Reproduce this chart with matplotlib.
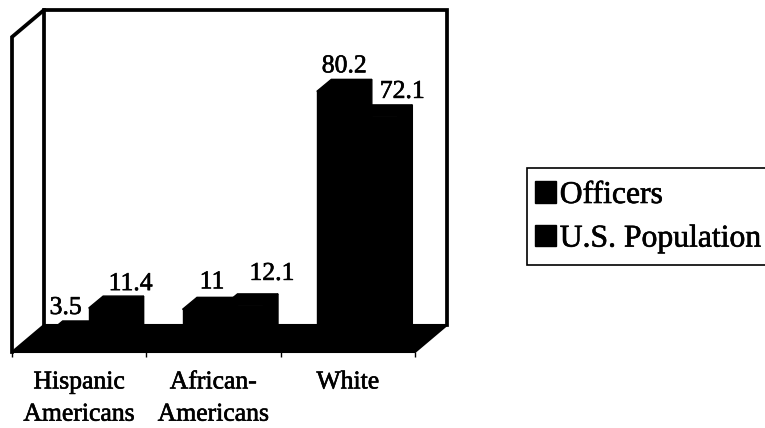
import matplotlib
matplotlib.use("Agg")
import matplotlib.pyplot as plt
import matplotlib.patheffects as pe
from matplotlib.patches import Polygon, Patch, Rectangle

plt.rcParams['font.family'] = ['Liberation Serif', 'DejaVu Serif']

categories = ["Hispanic\nAmericans", "African-\nAmericans", "White"]
series_names = ["Officers", "U.S. Population"]
officers = [3.5, 11, 80.2]
us_population = [11.4, 12.1, 72.1]

W, H = 765, 428
fig = plt.figure(figsize=(W / 100, H / 100), dpi=100, facecolor='white')
# front plane of the pseudo-3D box
L, R, T, B = 12, 415, 37, 352
ax = fig.add_axes([L / W, 1 - B / H, (R - L) / W, (B - T) / H])
ax.set_xlim(0, 3)
ax.set_ylim(0, 100)
ax.patch.set_visible(False)
for s in ax.spines.values():
    s.set_visible(False)

px_x = 3 / (R - L)
px_y = 100 / (B - T)
wall_dx, wall_dy = 32 * px_x, 27 * px_y     # full box depth
bar_ox, bar_oy = 9.5 * px_x, 8 * px_y       # bar front plane offset
bar_dx, bar_dy = 14.5 * px_x, 12 * px_y     # bar depth
bar_w = 40.5 * px_x

K = 'black'
heavy = [pe.withStroke(linewidth=0.45, foreground=K)]

# walls
line = dict(color=K, lw=2.7, clip_on=False, solid_capstyle='projecting', solid_joinstyle='miter')
ax.plot([0, 0, wall_dx, 3 + wall_dx, 3 + wall_dx],
        [0, 100, 100 + wall_dy, 100 + wall_dy, wall_dy], **line)
ax.plot([wall_dx, wall_dx], [wall_dy, 100 + wall_dy], **line)
# floor
ax.add_patch(Polygon([(0, 0), (wall_dx, wall_dy), (3 + wall_dx, wall_dy), (3, 0)],
                     closed=True, fc=K, ec=K, lw=1.5, clip_on=False))


def draw_series(values, shift):
    for i, v in enumerate(values):
        x0 = i + 0.5 + shift + bar_ox
        x1 = x0 + bar_w
        y0 = bar_oy
        y1 = y0 + v
        ax.bar(x0, v, width=bar_w, bottom=y0, align='edge', color=K,
               edgecolor=K, linewidth=1, clip_on=False)
        ax.add_patch(Polygon([(x0, y1), (x0 + bar_dx, y1 + bar_dy),
                              (x1 + bar_dx, y1 + bar_dy), (x1, y1)],
                             closed=True, fc=K, ec=K, lw=1, clip_on=False))
        ax.add_patch(Polygon([(x1, y0), (x1 + bar_dx, y0 + bar_dy),
                              (x1 + bar_dx, y1 + bar_dy), (x1, y1)],
                             closed=True, fc=K, ec=K, lw=1, clip_on=False))


draw_series(officers, -bar_w)
draw_series(us_population, 0)


def label_series(values, dx_px, dy_px):
    for i, v in enumerate(values):
        ax.annotate(str(v), (i + 0.5 + bar_ox, v + bar_oy + bar_dy),
                    xytext=(dx_px[i] * 0.72, dy_px[i] * 0.72), textcoords='offset points',
                    ha='center', va='bottom', fontsize=18.5, color=K, clip_on=False,
                    path_effects=heavy)


label_series(officers, [-23, -11, -13], [2, 4, 2])
label_series(us_population, [42, 49, 45], [1, 9, 2])

ax.set_xticks([0, 1, 2, 3])
ax.set_xticklabels([])
ax.tick_params(axis='x', length=3.5, width=1, color=K)
ax.set_yticks([])
for i, c in enumerate(categories):
    ax.annotate(c, (i + 0.5, 0), xytext=(0, -14), textcoords='offset points',
                ha='center', va='top', fontsize=18.5, color=K, linespacing=1.6, clip_on=False,
                path_effects=heavy)

# legend frame (runs off the right edge of the picture)
fig.add_artist(Rectangle((527 / W, 1 - 265 / H), 245 / W, 97 / H, transform=fig.transFigure,
                         fc='white', ec=K, lw=1.2))
handles = [Patch(fc=K, ec=K, label=n) for n in series_names]
leg = fig.legend(handles=handles, loc='upper left',
                 bbox_to_anchor=(535 / W, 1 - 181 / H), fontsize=22.8,
                 frameon=False,
                 handlelength=0.66, handleheight=0.66, handletextpad=0.12,
                 labelspacing=0.46, borderpad=0, borderaxespad=0)
for t in leg.get_texts():
    t.set_path_effects(heavy)

fig.savefig("out.png", dpi=100)
